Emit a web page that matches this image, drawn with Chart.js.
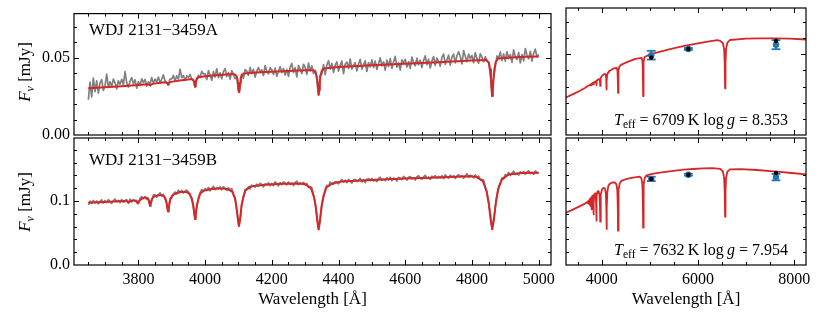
<!DOCTYPE html>
<html><head><meta charset="utf-8">
<script src="https://cdn.jsdelivr.net/npm/chart.js@4.4.0/dist/chart.umd.min.js"></script>
<style>
html,body{margin:0;padding:0;background:#fff;}
#wrap{position:relative;width:830px;height:312px;overflow:hidden;font-family:"Liberation Serif","Times New Roman",serif;color:#000;}
canvas{position:absolute;left:0;top:0;}
.lbl{position:absolute;white-space:nowrap;font-size:17px;line-height:17px;}
.sb{font-size:12px;position:relative;top:4px;}
.rot{transform:translate(-50%,-50%) rotate(-90deg);}
.ctr{transform:translateX(-50%);}
</style></head><body>
<div id="wrap">
<canvas id="cTL" width="830" height="312"></canvas>
<canvas id="cBL" width="830" height="312"></canvas>
<canvas id="cTR" width="830" height="312"></canvas>
<canvas id="cBR" width="830" height="312"></canvas>
<div class="lbl" style="left:89px;top:21px;">WDJ 2131−3459A</div>
<div class="lbl" style="left:89px;top:151px;">WDJ 2131−3459B</div>
<div class="lbl rot" style="left:25px;top:72px;"><i>F</i><span class="sb"><i>ν</i></span> [mJy]</div>
<div class="lbl rot" style="left:25px;top:202px;"><i>F</i><span class="sb"><i>ν</i></span> [mJy]</div>
<div class="lbl ctr" style="left:312.5px;top:290px;">Wavelength [Å]</div>
<div class="lbl ctr" style="left:686px;top:290px;">Wavelength [Å]</div>
<div class="lbl" style="right:42px;top:110.6px;font-size:16px;"><i>T</i><span class="sb" style="font-size:11.5px;top:3.5px;">eff</span> = 6709&#8201;K log&#8201;<i>g</i> = 8.353</div>
<div class="lbl" style="right:42px;top:240.6px;font-size:16px;"><i>T</i><span class="sb" style="font-size:11.5px;top:3.5px;">eff</span> = 7632&#8201;K log&#8201;<i>g</i> = 7.954</div>
</div>
<script>
// ---------------- data ----------------
const specWave = [
3650,3655,3660,3665,3670,3675,3680,3685,3690,3695,
3700,3705,3710,3715,3720,3725,3730,3735,3740,3745,
3750,3755,3760,3765,3770,3775,3780,3785,3790,3795,
3800,3805,3810,3815,3820,3825,3830,3835,3840,3845,
3850,3855,3860,3865,3870,3875,3880,3885,3890,3895,
3900,3905,3910,3915,3920,3925,3930,3935,3940,3945,
3950,3955,3960,3965,3970,3975,3980,3985,3990,3995,
4000,4005,4010,4015,4020,4025,4030,4035,4040,4045,
4050,4055,4060,4065,4070,4075,4080,4085,4090,4095,
4100,4105,4110,4115,4120,4125,4130,4135,4140,4145,
4150,4155,4160,4165,4170,4175,4180,4185,4190,4195,
4200,4205,4210,4215,4220,4225,4230,4235,4240,4245,
4250,4255,4260,4265,4270,4275,4280,4285,4290,4295,
4300,4305,4310,4315,4320,4325,4330,4335,4340,4345,
4350,4355,4360,4365,4370,4375,4380,4385,4390,4395,
4400,4405,4410,4415,4420,4425,4430,4435,4440,4445,
4450,4455,4460,4465,4470,4475,4480,4485,4490,4495,
4500,4505,4510,4515,4520,4525,4530,4535,4540,4545,
4550,4555,4560,4565,4570,4575,4580,4585,4590,4595,
4600,4605,4610,4615,4620,4625,4630,4635,4640,4645,
4650,4655,4660,4665,4670,4675,4680,4685,4690,4695,
4700,4705,4710,4715,4720,4725,4730,4735,4740,4745,
4750,4755,4760,4765,4770,4775,4780,4785,4790,4795,
4800,4805,4810,4815,4820,4825,4830,4835,4840,4845,
4850,4855,4860,4865,4870,4875,4880,4885,4890,4895,
4900,4905,4910,4915,4920,4925,4930,4935,4940,4945,
4950,4955,4960,4965,4970,4975,4980,4985,4990,4995,5000];

const specFluxA = [
.0228,.0343,.0247,.0368,.0281,.0351,.0271,.0336,.0359,.0289,
.0319,.0394,.0309,.0344,.0316,.0362,.0336,.0299,.0351,.0328,
.0361,.0324,.0410,.0338,.0310,.0349,.0372,.0331,.0358,.0303,
.0346,.0321,.0364,.0339,.0360,.0316,.0345,.0329,.0372,.0336,
.0362,.0344,.0375,.0338,.0361,.0389,.0351,.0337,.0330,.0362,
.0363,.0386,.0350,.0383,.0362,.0427,.0371,.0385,.0354,.0382,
.0373,.0392,.0360,.0351,.0309,.0358,.0387,.0372,.0412,.0395,
.0396,.0359,.0417,.0389,.0355,.0411,.0376,.0429,.0372,.0402,
.0364,.0410,.0430,.0379,.0403,.0362,.0417,.0394,.0365,.0373,
.0280,.0299,.0393,.0368,.0424,.0414,.0386,.0437,.0397,.0425,
.0375,.0415,.0437,.0405,.0422,.0385,.0450,.0414,.0396,.0435,
.0423,.0392,.0433,.0380,.0415,.0442,.0403,.0430,.0388,.0425,
.0380,.0438,.0464,.0404,.0436,.0376,.0451,.0425,.0398,.0458,
.0437,.0393,.0465,.0415,.0447,.0398,.0419,.0358,.0258,.0389,
.0395,.0456,.0391,.0454,.0481,.0426,.0463,.0406,.0452,.0474,
.0414,.0451,.0479,.0397,.0458,.0472,.0431,.0492,.0426,.0451,
.0468,.0415,.0460,.0490,.0426,.0454,.0481,.0412,.0469,.0441,
.0486,.0436,.0478,.0424,.0463,.0499,.0448,.0474,.0420,.0485,
.0443,.0495,.0431,.0473,.0509,.0439,.0468,.0420,.0486,.0468,
.0490,.0440,.0475,.0431,.0505,.0470,.0448,.0497,.0455,.0485,
.0437,.0483,.0512,.0455,.0490,.0434,.0479,.0508,.0451,.0497,
.0477,.0446,.0504,.0524,.0457,.0487,.0517,.0453,.0505,.0524,
.0467,.0513,.0539,.0508,.0461,.0547,.0510,.0475,.0524,.0495,
.0515,.0468,.0533,.0496,.0465,.0526,.0504,.0474,.0507,.0481,
.0470,.0393,.0250,.0370,.0441,.0512,.0498,.0537,.0482,.0525,
.0478,.0539,.0495,.0521,.0470,.0551,.0506,.0488,.0533,.0467,
.0521,.0480,.0560,.0516,.0493,.0542,.0478,.0529,.0556,.0505,.0521];

const specFluxB = [
.0938,.0999,.0962,.1008,.0972,.1000,.0956,.0993,.1019,.0968,
.1008,.0976,.1022,.0992,.0962,.1005,.1031,.0985,.1011,.0973,
.1025,.0981,.1007,.1022,.0966,.1029,.0984,.1021,.1000,.1010,
.0968,.1037,.1068,.1037,.1067,.1024,.1039,.0929,.0996,.1096,
.1096,.1060,.1098,.1126,.1081,.1105,.1032,.0968,.0844,.1036,
.1047,.1113,.1140,.1111,.1169,.1134,.1165,.1125,.1154,.1170,
.1144,.1086,.1048,.0928,.0712,.0924,.1022,.1129,.1180,.1147,
.1194,.1166,.1212,.1160,.1196,.1230,.1176,.1209,.1190,.1222,
.1175,.1224,.1198,.1162,.1206,.1173,.1195,.1100,.1042,.0854,
.0630,.0703,.0957,.1055,.1179,.1181,.1221,.1189,.1246,.1234,
.1218,.1263,.1233,.1278,.1258,.1219,.1269,.1251,.1284,.1238,
.1274,.1240,.1299,.1264,.1237,.1286,.1256,.1299,.1277,.1253,
.1296,.1261,.1279,.1240,.1291,.1310,.1254,.1284,.1266,.1292,
.1253,.1274,.1213,.1227,.1209,.1082,.0973,.0787,.0553,.0734,
.0955,.1054,.1182,.1246,.1231,.1297,.1268,.1259,.1303,.1294,
.1267,.1309,.1336,.1294,.1324,.1286,.1336,.1310,.1281,.1328,
.1338,.1303,.1324,.1353,.1298,.1332,.1286,.1340,.1349,.1319,
.1354,.1310,.1337,.1302,.1352,.1372,.1323,.1342,.1317,.1363,
.1332,.1372,.1320,.1357,.1347,.1312,.1369,.1356,.1335,.1386,
.1362,.1327,.1370,.1382,.1344,.1362,.1326,.1378,.1393,.1354,
.1341,.1376,.1402,.1350,.1372,.1337,.1388,.1369,.1395,.1357,
.1385,.1361,.1395,.1349,.1408,.1378,.1356,.1405,.1372,.1396,
.1352,.1389,.1413,.1374,.1401,.1354,.1391,.1426,.1371,.1403,
.1395,.1360,.1406,.1367,.1390,.1339,.1335,.1328,.1208,.1133,
.0967,.0801,.0567,.0700,.0902,.1091,.1233,.1278,.1357,.1347,
.1411,.1397,.1446,.1398,.1435,.1466,.1412,.1437,.1406,.1457,
.1430,.1462,.1417,.1452,.1473,.1429,.1448,.1416,.1470,.1445,.1429];

// best-fit model spectra (left panels)
const modelWaveA = [3650,3700,3750,3800,3828,3833,3835.4,3838,3843,3860,3880,3885,3887.5,3889,3890.5,3893,3898,3930,3950,
3958.7,3963.5,3966,3968,3969,3970,3971,3972.5,3974,3976.5,3981.3,4000,4050,4075,4088.2,4093.9,4096.9,4098.7,4100.5,4101.7,
4102.9,4104.7,4106.5,4109.5,4115.2,4150,4200,4250,4300,4324.8,4331.4,4334.9,4337,4339.1,4340.5,4341.9,4344,4346.1,4349.6,
4356.2,4400,4500,4600,4700,4800,4843,4850.6,4854.6,4857,4859.4,4861,4862.6,4865,4867.4,4871.4,4879,4920,4960,5000];
const modelFluxA = [.0302,.0309,.0316,.0323,.0328,.0325,.0320,.0326,.0331,.0336,.0341,.0338,.0334,.0325,.0334,.0339,.0344,.0354,.0360,
.0362,.0360,.0350,.0340,.0320,.0314,.0325,.0345,.0358,.0369,.0374,.0380,.0390,.0393,.0393,.0384,.0363,.0337,.0297,.0278,
.0298,.0338,.0366,.0387,.0398,.0404,.0410,.0415,.0420,.0419,.0407,.0378,.0342,.0287,.0261,.0289,.0346,.0384,.0415,
.0431,.0440,.0451,.0461,.0471,.0483,.0486,.0468,.0425,.0373,.0291,.0253,.0293,.0376,.0429,.0474,.0496,.0502,.0506,.0508];

const modelWaveB = [3650,3700,3740,3760,3765,3768,3770.6,3773,3776,3780,3786,3790,3795,3796.7,3797.9,3799.1,3800.9,3806,3812,
3820,3826.3,3829.8,3831.9,3834,3835.4,3836.8,3838.9,3841,3844.5,3851.2,3860,3869,3877,3882,3884.5,3887,3889,3891,3893.5,3896,
3901,3909,3925,3943,3954,3960,3964,3968,3970,3972,3976,3980,3986,3997,4020,4045,4068,4082,4090,4094,4099,4101.7,4105,4109,
4114,4121,4136,4180,4230,4280,4300,4317.1,4326.1,4331.5,4336.9,4340.5,4344.1,4349.5,4354.9,4363.9,4381,4410,4500,4600,4700,
4790,4811.5,4832.4,4843.4,4850,4856.6,4861,4865.4,4872,4878.6,4889.6,4910.5,4950,5000];
const modelFluxB = [.0973,.0986,.0995,.0999,.0997,.0988,.0975,.0988,.0998,.1004,.1007,.1006,.0988,.0972,.0962,.0972,.0990,.1018,.1040,
.1056,.1048,.1024,.0993,.0945,.0922,.0947,.0999,.1034,.1062,.1080,.1090,.1093,.1073,.1026,.0968,.0877,.0835,.0879,.0972,.1032,
.1083,.1109,.1140,.1143,.1110,.1033,.0937,.0789,.0720,.0791,.0943,.1041,.1122,.1163,.1188,.1197,.1186,.1142,.1037,.0906,.0703,.0609,.0709,.0918,
.1053,.1166,.1225,.1252,.1268,.1274,.1261,.1201,.1073,.0915,.0671,.0557,.0673,.0919,.1079,.1211,.1274,.1303,.1326,.1351,.1368,
.1386,.1380,.1313,.1164,.0978,.0691,.0557,.0695,.0988,.1179,.1337,.1415,.1436,.1443];

// model SEDs (right panels)
const sedWaveA = [3260,3350,3450,3550,3650,3730,3764,3771,3778,3791,3798,3805,3823,3830,3835,3840,3847,3877,3884,3889,3894,3901,
3940,3958,3965,3970,3975,3982,4000,4050,4072,4090,4097,4102,4107,4114,4132,4150,4250,4310,4328,4335,4340,4345,4352,4370,4400,
4550,4700,4831,4849,4856,4861,4866,4873,4891,5000,5200,5400,5600,5800,6000,6200,6400,6463,6518,6543,6555,6563,6571,6583,6608,
6663,7000,7300,7600,7900,8250];
const sedFluxA = [.0233,.0245,.0259,.0274,.0291,.0306,.0311,.0306,.0313,.0317,.0310,.0319,.0324,.0320,.0313,.0321,.0328,.0332,.0322,.0309,.0324,.0336,
.0346,.0344,.0328,.0304,.0330,.0351,.0364,.0377,.0378,.0368,.0333,.0282,.0335,.0372,.0388,.0394,.0412,.0416,.0398,.0342,.0261,.0344,.0402,.0425,.0434,
.0454,.0471,.0477,.0449,.0363,.0241,.0364,.0451,.0483,.0499,.0514,.0530,.0544,.0556,.0567,.0578,.0587,.0583,.0568,.0530,.0439,.0288,.0439,.0530,.0570,
.0588,.0596,.0598,.0598,.0596,.0591];

const sedWaveB = [3260,3400,3550,3650,3700,3710,3712,3714,3719,3722,3725,3730,3734,3738,3742,3748,3750,3752,3757,3760,3766,3769,3771,
3773,3776,3782,3785,3792,3795.5,3798,3800.5,3804,3811,3820,3828,3832,3835,3838,3842,3850,3864,3879,3885,3889,3893,3899,3914,3935,
3955,3964,3970,3976,3985,4005,4032,4067,4087,4096,4102,4108,4117,4137,4172,4220,4270,4305,4325,4334,4340,4346,4355,4375,4410,
4500,4650,4791,4826,4846,4855,4861,4867,4876,4896,4931,5050,5210,5450,5700,5900,6100,6300,6463,6518,6543,6555,6563,6571,6583,
6608,6663,6900,7216,7631,7950,8250];
const sedFluxB = [.0817,.0866,.0920,.0958,.0985,.0988,.0968,.0990,.0997,.0963,.1000,.1005,.0958,.1010,.1015,.0995,.0945,.0998,.1028,.1033,.1022,.0983,.0920,
.0987,.1032,.1055,.1055,.1035,.0971,.0870,.0976,.1046,.1080,.1086,.1048,.0949,.0792,.0953,.1057,.1109,.1117,.1067,.0921,.0692,.0925,.1079,.1149,.1155,
.1094,.0931,.0677,.0934,.1101,.1174,.1203,.1196,.1119,.0903,.0563,.0909,.1134,.1235,.1271,.1290,.1289,.1262,.1168,.0922,.0536,.0924,.1174,.1278,.1314,
.1340,.1365,.1379,.1354,.1251,.0990,.0583,.0992,.1255,.1364,.1400,.1425,.1443,.1468,.1490,.1500,.1510,.1514,.1501,.1457,.1358,.1132,.0755,.1132,.1358,
.1455,.1494,.1497,.1484,.1458,.1437,.1415];

// photometry
const photWave = [5030, 5800, 7620];
const photFluxA = [0.0494, 0.0532, 0.0559];
const photErrA = [0.0027, 0.0006, 0.0028];
const synthFluxA = [0.0480, 0.0532, 0.0582];
const photFluxB = [0.1345, 0.1411, 0.1372];
const photErrB = [0.0034, 0.0015, 0.0050];
const synthFluxB = [0.1345, 0.1411, 0.1438];

// axes ticks
const xTicksSpec = [3800, 4000, 4200, 4400, 4600, 4800, 5000];
const xTicksSed = [4000, 6000, 8000];
const yTicksA = [0, 0.05];
const yTickLabelsA = ['0.00', '0.05'];
const yTicksB = [0, 0.1];
const yTickLabelsB = ['0.0', '0.1'];

// ---------------- drawing ----------------
Chart.defaults.font.family = "'Liberation Serif','Times New Roman',serif";
Chart.defaults.font.size = 16;
Chart.defaults.color = '#000';

const W = 830, H = 312, YW = 60, XH = 30;
const RED = '#d62728', GRAY = '#808080', BLUE = '#1f77b4';

const toXY = (xs, ys) => xs.map((x, i) => ({x: x, y: ys[i]}));
const errXY = (xs, ys, es) => xs.flatMap((x, i) => [{x: x, y: ys[i] - es[i]}, {x: x, y: ys[i] + es[i]}, {x: x, y: null}]);

const framePlugin = {
  id: 'frame',
  afterDraw(chart, args, o) {
    const ctx = chart.ctx, a = chart.chartArea, xs = chart.scales.x, ys = chart.scales.y;
    ctx.save();
    ctx.strokeStyle = '#000';
    ctx.lineWidth = 1;
    ctx.beginPath();
    const tickX = (v, len) => {
      const p = Math.round(xs.getPixelForValue(v)) + 0.5;
      if (p < a.left + 1 || p > a.right - 1) return;
      ctx.moveTo(p, a.bottom); ctx.lineTo(p, a.bottom - len);
      ctx.moveTo(p, a.top); ctx.lineTo(p, a.top + len);
    };
    const tickY = (v, len) => {
      const p = Math.round(ys.getPixelForValue(v)) + 0.5;
      if (p < a.top + 1 || p > a.bottom - 1) return;
      ctx.moveTo(a.left, p); ctx.lineTo(a.left + len, p);
      ctx.moveTo(a.right, p); ctx.lineTo(a.right - len, p);
    };
    for (let k = Math.ceil(xs.min / o.xMinor); k * o.xMinor <= xs.max; k++) tickX(k * o.xMinor, 3);
    o.xMajor.forEach(v => tickX(v, 5));
    for (let k = Math.ceil(ys.min / o.yMinor - 1e-9); k * o.yMinor <= ys.max + 1e-12; k++) tickY(k * o.yMinor, 3);
    o.yMajor.forEach(v => tickY(v, 5));
    ctx.stroke();
    ctx.lineWidth = 1.2;
    ctx.strokeRect(a.left, a.top, a.right - a.left, a.bottom - a.top);
    ctx.restore();
  }
};

function makeChart(id, c) {
  const b = c.box;
  return new Chart(document.getElementById(id), {
    type: 'scatter',
    data: {datasets: c.datasets},
    options: {
      responsive: false, animation: false, devicePixelRatio: 1, events: [],
      layout: {padding: {left: b.l - YW, top: b.t, right: W - b.r, bottom: H - b.b - XH}},
      plugins: {legend: {display: false}, tooltip: {enabled: false},
        frame: {xMajor: c.xTicks, xMinor: c.xMinor, yMajor: c.yTicks, yMinor: c.yMinor}},
      scales: {
        x: {type: 'linear', min: c.xMin, max: c.xMax,
          afterBuildTicks: s => { s.ticks = c.xTicks.map(v => ({value: v})); },
          afterFit: s => { s.height = XH; },
          grid: {display: false, drawTicks: false}, border: {display: false},
          ticks: {display: c.xLabels, padding: 5, maxRotation: 0, autoSkip: false, callback: v => String(v)}},
        y: {type: 'linear', min: c.yMin, max: c.yMax,
          afterBuildTicks: s => { s.ticks = c.yTicks.map(v => ({value: v})); },
          afterFit: s => { s.width = YW; },
          grid: {display: false, drawTicks: false}, border: {display: false},
          ticks: {display: !!c.yLabels, padding: 4, autoSkip: false, callback: (v, i) => c.yLabels ? c.yLabels[i] : ''}}
      }
    },
    plugins: [framePlugin]
  });
}

function specSets(mw, mf, sf) {
  return [
    {data: toXY(mw, mf), showLine: true, borderColor: RED, borderWidth: 2, pointRadius: 0, borderJoinStyle: 'round'},
    {data: toXY(specWave, sf), showLine: true, borderColor: GRAY, borderWidth: 1.7, pointRadius: 0, borderJoinStyle: 'round'}
  ];
}
function sedSets(sw, sf, pf, pe, mf) {
  return [
    {data: toXY(photWave, mf), pointRadius: 2.2, pointBackgroundColor: '#000', pointBorderWidth: 0, showLine: false},
    {data: toXY(photWave, pf), pointRadius: 3.2, pointBackgroundColor: BLUE, pointBorderWidth: 0, showLine: false},
    {data: errXY(photWave, pf, pe), showLine: true, spanGaps: false, borderColor: BLUE, borderWidth: 1.8,
      pointStyle: 'line', pointRadius: 4.4, pointBorderColor: BLUE, pointBorderWidth: 1.8},
    {data: toXY(sw, sf), showLine: true, borderColor: RED, borderWidth: 1.8, pointRadius: 0, borderJoinStyle: 'round'}
  ];
}

const specX = {xMin: 3607, xMax: 5037, xTicks: xTicksSpec, xMinor: 50};
const sedX = {xMin: 3259, xMax: 8243, xTicks: xTicksSed, xMinor: 500};
const rowA = {yMin: 0, yMax: 0.0786, yTicks: yTicksA, yMinor: 0.01};
const rowB = {yMin: 0, yMax: 0.1984, yTicks: yTicksB, yMinor: 0.02};

makeChart('cTL', Object.assign({box: {l: 74, t: 8, r: 551, b: 135}, xLabels: false, yLabels: yTickLabelsA,
  datasets: specSets(modelWaveA, modelFluxA, specFluxA)}, specX, rowA));
makeChart('cBL', Object.assign({box: {l: 74, t: 138, r: 551, b: 265}, xLabels: true, yLabels: yTickLabelsB,
  datasets: specSets(modelWaveB, modelFluxB, specFluxB)}, specX, rowB));
makeChart('cTR', Object.assign({box: {l: 566, t: 8, r: 806, b: 135}, xLabels: false, yLabels: null,
  datasets: sedSets(sedWaveA, sedFluxA, photFluxA, photErrA, synthFluxA)}, sedX, rowA));
makeChart('cBR', Object.assign({box: {l: 566, t: 138, r: 806, b: 265}, xLabels: true, yLabels: null,
  datasets: sedSets(sedWaveB, sedFluxB, photFluxB, photErrB, synthFluxB)}, sedX, rowB));
</script>
</body></html>
